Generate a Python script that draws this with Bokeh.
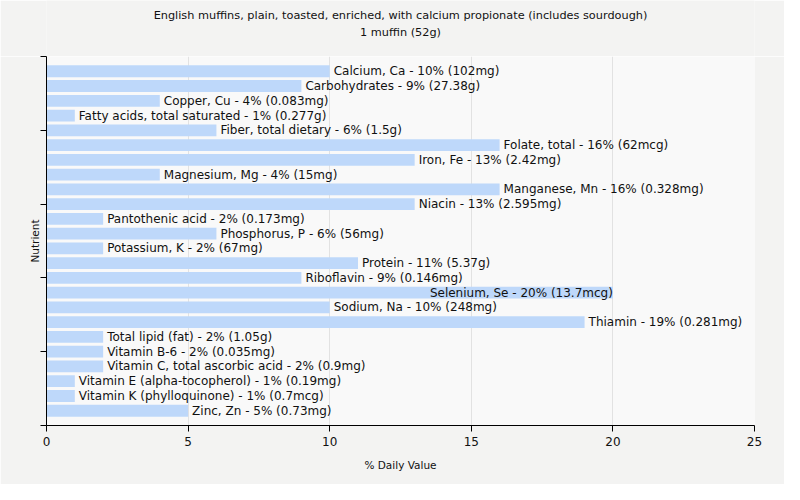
from bokeh.plotting import figure
from bokeh.models import ColumnDataSource, Range1d, FixedTicker
from bokeh.layouts import column
from bokeh.core.properties import value
from bokeh.embed import file_html
from bokeh.resources import INLINE

nutrients = ["Calcium, Ca", "Carbohydrates", "Copper, Cu", "Fatty acids, total saturated",
             "Fiber, total dietary", "Folate, total", "Iron, Fe", "Magnesium, Mg",
             "Manganese, Mn", "Niacin", "Pantothenic acid", "Phosphorus, P", "Potassium, K",
             "Protein", "Riboflavin", "Selenium, Se", "Sodium, Na", "Thiamin",
             "Total lipid (fat)", "Vitamin B-6", "Vitamin C, total ascorbic acid",
             "Vitamin E (alpha-tocopherol)", "Vitamin K (phylloquinone)", "Zinc, Zn"]
pct = [10, 9, 4, 1, 6, 16, 13, 4, 16, 13, 2, 6, 2, 11, 9, 20, 10, 19, 2, 2, 2, 1, 1, 5]
amounts = ["102mg", "27.38g", "0.083mg", "0.277g", "1.5g", "62mcg", "2.42mg", "15mg",
           "0.328mg", "2.595mg", "0.173mg", "56mg", "67mg", "5.37g", "0.146mg", "13.7mcg",
           "248mg", "0.281mg", "1.05g", "0.035mg", "0.9mg", "0.19mg", "0.7mcg", "0.73mg"]
x_ticks = [0, 5, 10, 15, 20, 25]
y_ticks = [0, 5, 10, 15, 20, 25]
title_lines = ["English muffins, plain, toasted, enriched, with calcium propionate (includes sourdough)",
               "1 muffin (52g)"]

pos = list(range(1, len(nutrients) + 1))
labels = [f"{n} - {v}% ({a})" for n, v, a in zip(nutrients, pct, amounts)]
inside = [v >= 20 for v in pct]

src = ColumnDataSource(dict(y=pos, v=pct, label=labels))
out_src = ColumnDataSource(dict(y=[p for p, i in zip(pos, inside) if not i],
                                v=[v for v, i in zip(pct, inside) if not i],
                                label=[l for l, i in zip(labels, inside) if not i]))
in_src = ColumnDataSource(dict(y=[p for p, i in zip(pos, inside) if i],
                               v=[v for v, i in zip(pct, inside) if i],
                               label=[l for l, i in zip(labels, inside) if i]))

FONT = "DejaVu Sans"
W = 784
TOP = 56
BG = "#f3f3f2"

# title strip
t = figure(width=W, height=TOP, output_backend="svg", toolbar_location=None,
           x_range=Range1d(0, W), y_range=Range1d(TOP, 0), min_border=0)
t.axis.visible = False
t.grid.visible = False
t.outline_line_color = None
t.background_fill_color = BG
t.border_fill_color = BG
t.text(x=[W / 2, W / 2], y=[15, 32], text=title_lines, text_align="center",
       text_baseline="middle", text_font=value(FONT), text_font_size="11.3px",
       text_color="#111111")

p = figure(width=W, height=428, output_backend="svg", toolbar_location=None,
           x_range=Range1d(0, 25), y_range=Range1d(25, 0),
           min_border_left=46, min_border_right=30, min_border_top=0, min_border_bottom=59)
p.border_fill_color = BG
p.background_fill_color = "#f9f9f9"
p.outline_line_color = None

p.hbar(y="y", right="v", left=0, height=0.8, source=src, fill_color="#bed8fa", line_color=None)

p.text(x="v", y="y", text="label", source=out_src, x_offset=4, text_align="left",
       text_baseline="middle", text_font=value(FONT), text_font_size="12px", text_color="#111111")
p.text(x="v", y="y", text="label", source=in_src, x_offset=0, text_align="right",
       text_baseline="middle", text_font=value(FONT), text_font_size="12px", text_color="#111111")

p.xaxis.ticker = FixedTicker(ticks=x_ticks)
p.xaxis.axis_label = "% Daily Value"
p.yaxis.axis_label = "Nutrient"
p.yaxis.ticker = FixedTicker(ticks=y_ticks)
p.yaxis.major_label_overrides = {t_: "" for t_ in y_ticks}
p.yaxis.major_label_standoff = 0
for ax in (p.xaxis, p.yaxis):
    ax.axis_line_color = "black"
    ax.major_tick_line_color = "black"
    ax.minor_tick_line_color = None
    ax.major_tick_out = 6
    ax.major_tick_in = 0
    ax.axis_label_text_font = FONT
    ax.axis_label_text_font_size = "10.5px"
    ax.axis_label_text_font_style = "normal"
    ax.axis_label_text_color = "#111111"
    ax.major_label_text_font = FONT
    ax.major_label_text_font_size = "12px"
    ax.major_label_text_color = "#111111"
p.xaxis.axis_label_standoff = 10
p.yaxis.axis_label_standoff = 0
p.xgrid.grid_line_color = "#e2e2e2"
p.ygrid.grid_line_color = None

layout = column(t, p, spacing=0)
open("out.html", "w").write(file_html(layout, INLINE))
